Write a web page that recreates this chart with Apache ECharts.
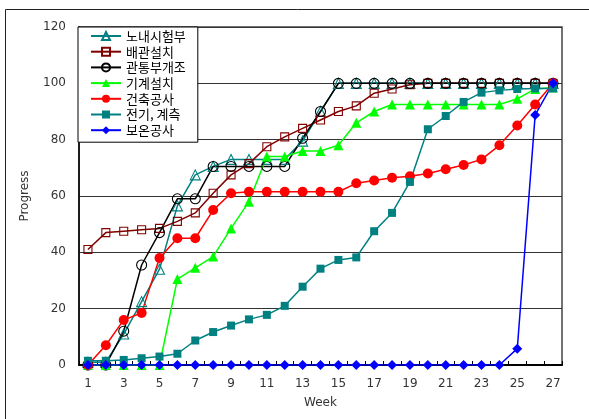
<!DOCTYPE html>
<html>
<head>
<meta charset="utf-8">
<script src="https://cdn.jsdelivr.net/npm/echarts@6/dist/echarts.min.js"></script>
<style>
html,body{margin:0;padding:0;background:#fff;}
#chart{width:589px;height:419px;}
</style>
</head>
<body>
<div id="chart"></div>
<script>
const weeks = ['1','2','3','4','5','6','7','8','9','10','11','12','13','14','15','16','17','18','19','20','21','22','23','24','25','26','27'];
const yTicks = [0, 20, 40, 60, 80, 100, 120];

const s1Name = '노내시험부';
const s1 = [1,1,11,22.5,34,56.5,67.5,70.5,73,73,73,73,79.5,90,100,100,100,100,100,100,100,100,100,100,100,100,100];
const s2Name = '배관설치';
const s2 = [41,47,47.5,48,48.5,51,54,61,67.5,71.5,77.5,81,84,87,90,92,96.5,98,99.5,100,100,100,100,100,100,100,100];
const s3Name = '관통부개조';
const s3 = [0,0,12,35.5,47,59,59,70.5,70.5,70.5,70.5,70.5,80.5,90,100,100,100,100,100,100,100,100,100,100,100,100,100];
const s4Name = '기계설치';
const s4 = [0,0,0,0,0,30.5,34.5,38.5,48.5,58,74,74,76,76,78,86,90,92.5,92.5,92.5,92.5,92.5,92.5,92.5,94.5,98,98.5];
const s5Name = '건축공사';
const s5 = [0,7,16,18.5,38,45,45,55,61,61.5,61.5,61.5,61.5,61.5,61.5,64.5,65.5,66.5,67,68,69.5,71,73,78,85,92.5,100];
const s6Name = '전기, 계측';
const s6 = [1.5,1.5,1.8,2.4,3,4,8.7,11.7,14,16.2,17.8,21,27.8,34.2,37.3,38.2,47.5,54,65,83.7,88.4,93.4,96.7,97.5,98,98.2,98.2];
const s7Name = '보온공사';
const s7 = [0,0,0,0,0,0,0,0,0,0,0,0,0,0,0,0,0,0,0,0,0,0,0,0,5.8,88.8,100];

function mk(name, data, color, symbol, size, hollow) {
  return {
    name: name, type: 'line', data: data,
    symbol: symbol, symbolSize: size,
    lineStyle: {color: color, width: 1.5},
    itemStyle: hollow ? {color: 'rgba(255,255,255,0)', borderColor: color, borderWidth: 1.1}
                      : {color: color, borderColor: color, borderWidth: 0},
    emphasis: {disabled: true},
    animation: false
  };
}

const chart = echarts.init(document.getElementById('chart'), null, {renderer: 'canvas'});
chart.setOption({
  animation: false,
  backgroundColor: '#fff',
  graphic: [{
    type: 'rect', silent: true, z: -10,
    shape: {x: 5.5, y: 9.5, width: 700, height: 500},
    style: {fill: 'none', stroke: '#222', lineWidth: 1}
  }],
  grid: {left: 79, top: 27, right: 27, bottom: 54, show: true, borderColor: '#444', borderWidth: 1.5, backgroundColor: 'transparent'},
  legend: {
    orient: 'vertical', left: 78, top: 27,
    backgroundColor: '#fff', borderColor: '#000', borderWidth: 1, borderRadius: 0,
    padding: [2, 12, 5, 12],
    itemWidth: 30, itemHeight: 10, itemGap: 1.7,
    textStyle: {fontFamily: 'Noto Sans CJK KR', fontSize: 13, color: '#000', lineHeight: 14},
    selectedMode: false,
    data: [s1Name, s2Name, s3Name, s4Name, s5Name, s6Name, s7Name]
  },
  xAxis: {
    type: 'category', data: weeks, boundaryGap: true,
    name: 'Week', nameLocation: 'middle', nameGap: 32,
    nameTextStyle: {fontFamily: 'DejaVu Sans', fontSize: 12, color: '#333'},
    axisLine: {show: true, lineStyle: {color: '#000', width: 2}},
    axisTick: {show: true, inside: true, length: 4, interval: 0, lineStyle: {color: '#000', width: 1}},
    axisLabel: {interval: 1, margin: 13, fontFamily: 'DejaVu Sans', fontSize: 12, color: '#333'},
    splitLine: {show: false}
  },
  yAxis: {
    type: 'value', min: yTicks[0], max: yTicks[yTicks.length - 1], interval: 20,
    name: 'Progress', nameLocation: 'middle', nameGap: 48,
    nameTextStyle: {fontFamily: 'DejaVu Sans', fontSize: 12, color: '#333'},
    axisLine: {show: true, lineStyle: {color: '#000', width: 1.5}},
    axisTick: {show: false},
    axisLabel: {margin: 13, fontFamily: 'DejaVu Sans', fontSize: 12, color: '#333'},
    splitLine: {show: true, lineStyle: {color: '#333', width: 1}}
  },
  series: [
    mk(s1Name, s1, '#008080', 'triangle', 10, true),
    mk(s2Name, s2, '#800000', 'rect', 8, true),
    mk(s3Name, s3, '#000000', 'circle', 10, true),
    mk(s4Name, s4, '#00ff00', 'triangle', 10, false),
    mk(s5Name, s5, '#ff0000', 'circle', 10, false),
    mk(s6Name, s6, '#008080', 'rect', 8, false),
    mk(s7Name, s7, '#0000ff', 'diamond', 10, false)
  ]
});
</script>
</body>
</html>
